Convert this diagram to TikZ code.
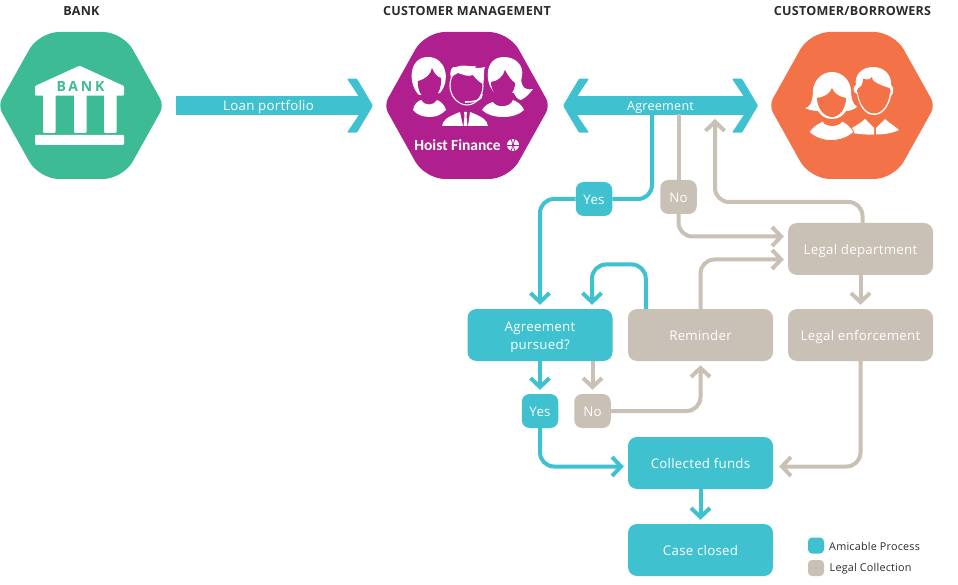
\documentclass[tikz,border=0pt]{standalone}
\usepackage{fontspec}
\setmainfont[LetterSpace=2]{Open Sans}
\newfontfamily\brandfont{Carlito}
\usetikzlibrary{calc,positioning,arrows.meta}
\definecolor{tealblue}{HTML}{3FC1CF}
\definecolor{legaltan}{HTML}{C9C0B6}
\definecolor{bankgreen}{HTML}{3DBB94}
\definecolor{hoistpink}{HTML}{B01F8E}
\definecolor{custorange}{HTML}{F47248}
\definecolor{titlegrey}{HTML}{2B2B2B}
\tikzset{
  hexbox/.style={minimum width=162pt,minimum height=147pt,inner sep=0pt},
  title/.style={font=\fontsize{12.55}{12.55}\selectfont\bfseries,text=titlegrey},
  stepbox/.style={rounded corners=9pt,minimum width=145pt,minimum height=52pt,inner sep=0pt,text=white,align=center,font=\fontsize{13.3}{18}\selectfont},
  oneline/.style={text height=11pt,text depth=0pt},
  tealbox/.style={stepbox,fill=tealblue},
  tanbox/.style={stepbox,fill=legaltan},
  tealtag/.style={tealbox,oneline,minimum width=36.5pt,minimum height=34pt,rounded corners=8pt},
  tantag/.style={tanbox,oneline,minimum width=36.5pt,minimum height=34pt,rounded corners=8pt},
  band/.style={tealblue,line width=18.4pt},
  bandtext/.style={text=white,text height=9.5pt,text depth=0pt},
  tealline/.style={tealblue,line width=4pt,rounded corners=14pt},
  tanline/.style={legaltan,line width=4pt,rounded corners=14pt},
  barb/.style={-{Straight Barb[length=9pt,width=19pt]},shorten >=4pt},
  legendbox/.style={minimum size=16pt,inner sep=0pt,rounded corners=4pt},
  legendtext/.style={font=\fontsize{10.8}{11}\selectfont,text=titlegrey,anchor=west,inner sep=0pt},
}
\newcommand{\hexagon}[2]{\fill[#2] (#1,32) [rounded corners=20pt] -- (#1+42,32) [rounded corners=8pt] -- (#1+83,105.5) [rounded corners=20pt] -- (#1+42,179) -- (#1-42,179) [rounded corners=8pt] -- (#1-83,105.5) [rounded corners=20pt] -- (#1-42,32) [sharp corners] -- cycle;}
\newcommand{\chevron}[2]{\fill[tealblue,shift={(#1)},xscale=#2,rounded corners=1pt] (-26,-27) -- (-16,-27) -- (0,0) -- (-16,27) -- (-26,27) -- (-14,9) -- (-14,-9) -- cycle;}
\begin{document}
\begin{tikzpicture}[x=1pt,y=-1pt]
    \useasboundingbox (0,0) rectangle (958,585);
    \node[title] (banktitle) at (81.5,11) {BANK};
    \node[title] (hoisttitle) at (467,11) {CUSTOMER MANAGEMENT};
    \node[title] (custtitle) at (852.5,11) {CUSTOMER/BORROWERS};
    \hexagon{81}{bankgreen}
    \hexagon{467}{hoistpink}
    \hexagon{852}{custorange}
    \node[hexbox] (bank) at (81,105.5) {};
    \node[hexbox] (hoist) at (467,105.5) {};
    \node[hexbox] (cust) at (852,105.5) {};

    \fill[white,rounded corners=1pt] (79.5,65.7) -- (124,86) -- (124,95.7) -- (35,95.7) -- (35,86) -- cycle;
    \foreach \x in {43,74,104}
        \fill[white,rounded corners=1pt] (\x,94) rectangle (\x+12.5,133);
    \fill[white,rounded corners=1pt] (35,135) rectangle (124,145);
    \node[text=bankgreen,font=\fontsize{14}{14}\selectfont\bfseries\addfontfeature{LetterSpace=20},inner sep=0pt] (banksign) at (80.5,86) {BANK};

    \fill[white] (419,95) .. controls (408,85) and (408,57) .. (428,57) .. controls (446,57) and (451,80) .. (440,93) -- cycle;
    \fill[hoistpink] (418,81) .. controls (426,79) and (431,74) .. (432,68) .. controls (434,73) and (437,77) .. (441,78) .. controls (442,88) and (437,99) .. (429,99) .. controls (422,99) and (417,90) .. (418,81) -- cycle;
    \fill[white] (413,110) .. controls (414,104) and (418,101) .. (421,100) .. controls (424,106) and (434,106) .. (437,100) .. controls (442,102) and (445,106) .. (446,110) .. controls (441,115) and (436,117) .. (430,117) .. controls (423,117) and (417,115) .. (413,110) -- cycle;

    \draw[white,line width=1.1pt] (450,86) .. controls (450,75) and (456,68) .. (466,68) .. controls (476,68) and (483,75) .. (483,86) .. controls (483,96) and (476,105) .. (467,105) .. controls (458,105) and (450,96) .. (450,86) -- cycle;
    \fill[white] (451,78) .. controls (449,70) and (452,66) .. (456,67) .. controls (462,64) and (470,67) .. (476,66) .. controls (475,67) and (475,68) .. (474,68) .. controls (478,68) and (482,68) .. (485,67) .. controls (483,70) and (485,76) .. (483,84) .. controls (479,82) and (476,79) .. (473,75) .. controls (468,77) and (464,75) .. (458,73) .. controls (455,74) and (453,76) .. (451,78) -- cycle;
    \draw[white,line width=1.6pt] (482,94) .. controls (482,100) and (476,102) .. (465,102);
    \fill[white] (442,126) .. controls (443,120) and (447,117) .. (460,112) -- (463,126) -- cycle;
    \fill[white] (488,126) .. controls (487,120) and (483,117) .. (470,112) -- (468,126) -- cycle;
    \fill[white] (464,112) -- (467,112) -- (466.5,116) -- (467.5,126) -- (463.5,126) -- (464.5,116) -- cycle;

    \fill[white] (495,93) .. controls (485,85) and (483,57) .. (504,57) .. controls (516,57) and (524,66) .. (522,76) .. controls (520,84) and (523,91) .. (533,89) .. controls (530,93) and (527,97) .. (521,100) .. controls (518,100) and (515,96) .. (514,93) -- cycle;
    \fill[hoistpink] (491,82) .. controls (498,81) and (503,77) .. (505,70) .. controls (508,76) and (512,81) .. (515,83) .. controls (515,91) and (510,98) .. (503,98) .. controls (496,98) and (491,90) .. (491,82) -- cycle;
    \fill[white] (482,110) .. controls (484,106) and (489,103) .. (493,102) .. controls (496,108) and (510,108) .. (513,100) .. controls (518,102) and (522,105) .. (524,110) .. controls (519,115) and (511,117) .. (503,117) .. controls (495,117) and (487,115) .. (482,110) -- cycle;

    \node[text=white,font=\brandfont\bfseries\fontsize{15.5}{16}\selectfont,inner sep=0pt] (hoistname) at (457.5,145.5) {Hoist Finance};
    \fill[white] (513,145) circle (6pt);
    \draw[hoistpink,line width=0.8pt] (507,145) -- (519,145);
    \draw[hoistpink,line width=0.8pt] (511,139) .. controls (513,143) and (513,147) .. (511,151);
    \draw[hoistpink,line width=0.8pt] (515,139) .. controls (513,143) and (513,147) .. (515,151);

    \fill[white] (857,94) .. controls (852,92) and (853,86) .. (856,85) .. controls (854,76) and (861,67) .. (873,67) .. controls (885,67) and (892,76) .. (891,85) .. controls (894,87) and (894,93) .. (891,96) .. controls (889,106) and (883,115) .. (874,115) .. controls (865,115) and (859,106) .. (857,94) -- cycle;
    \fill[custorange] (858,94) .. controls (856,92) and (857,89) .. (858.5,88) .. controls (861,87) and (863,84) .. (863,79) .. controls (866,80) and (870,80) .. (872,77) .. controls (872,79) and (873,81) .. (875,82) .. controls (880,85) and (885,87) .. (889.5,88) .. controls (891,90) and (891,92) .. (889.5,95) .. controls (888,105) and (882,113.5) .. (874,113.5) .. controls (866,113.5) and (860,105) .. (858,94) -- cycle;
    \fill[white] (852,128) .. controls (857,125) and (862,122) .. (865,119) .. controls (868,122) and (871,125) .. (874,128) -- (874,134.5) .. controls (866,135) and (859,134) .. (852,133) -- cycle;
    \fill[white] (885,119) .. controls (889,123) and (895,126) .. (899,130) .. controls (893,133) and (885,134.5) .. (876,134.5) -- (876,128) .. controls (879,125) and (882,122) .. (885,119) -- cycle;

    \fill[white] (808,107) .. controls (812,104) and (813,96) .. (813,90) .. controls (814,80) and (822,72) .. (832,72) .. controls (842,72) and (850,80) .. (851,90) .. controls (851,96) and (852,104) .. (857,107) .. controls (853,110) and (849,111) .. (846,111) .. controls (843,116) and (838,119) .. (832,119) .. controls (826,119) and (821,116) .. (818,111) .. controls (814,111) and (809,110) .. (805,108) -- cycle;
    \fill[custorange] (817,98) .. controls (824,97) and (830,94) .. (832,88) .. controls (834,94) and (840,97) .. (846,98) .. controls (846,108) and (840,117) .. (832,117) .. controls (824,117) and (817,108) .. (817,98) -- cycle;
    \filldraw[white,draw=custorange,line width=0.8pt] (809,132) .. controls (812,127) and (818,123) .. (823,121) .. controls (825,127) and (839,127) .. (842,121) .. controls (847,123) and (851,127) .. (854,132) .. controls (849,137) and (840,140.5) .. (831,140.5) .. controls (822,140.5) and (814,137) .. (809,132) -- cycle;

    \node[tealbox] (pursued) at (540,335) {\rule{0pt}{14pt}Agreement\\pursued?};
    \node[tanbox,oneline] (reminder) at (700.5,335) {Reminder};
    \node[tanbox,oneline] (legaldept) at (860.5,249) {Legal department};
    \node[tanbox,oneline] (legalenf) at (860.5,335) {Legal enforcement};
    \node[tealbox,oneline] (funds) at (700.5,463) {Collected funds};
    \node[tealbox,oneline] (closed) at (700.5,550) {Case closed};

    \coordinate (loanstart) at (176,105.7);
    \coordinate (loantip) at (373,105.7);
    \coordinate (agreeleft) at (563,105.7);
    \coordinate (agreeright) at (758,105.7);
    \chevron{loantip}{1}
    \chevron{agreeleft}{-1}
    \chevron{agreeright}{1}
    \draw[band] (loanstart) -- ([xshift=-12pt]loantip) node[midway,bandtext,font=\fontsize{13.3}{13.3}\selectfont] (loanlabel) {Loan portfolio};
    \draw[band] ([xshift=12pt]agreeleft) -- ([xshift=-12pt]agreeright) node[midway,bandtext,font=\fontsize{12.6}{12.6}\selectfont] (agreelabel) {Agreement};
    \coordinate (yesfrom) at (652,114);
    \coordinate (nofrom) at (678.5,114);
    \coordinate (backto) at (715,115);

    \node[tealtag] (yestop) at (594,199) {Yes};
    \node[tantag] (notop) at (678.5,197) {No};
    \node[tealtag] (yesbot) at (540,411) {Yes};
    \node[tantag] (nobot) at (592.5,411) {No};

    \draw[tealline] (yesfrom) |- (yestop);
    \draw[tealline,barb] (yestop) -| (pursued.north);
    \draw[tealline,barb] ([xshift=18pt]reminder.north west) |- (619,264.5) -| ([xshift=52pt]pursued.north);
    \draw[tealline,barb] (pursued.south) -- (yesbot.north);
    \draw[tealline,barb] (yesbot.south) |- ([yshift=-3.5pt]funds.west);
    \draw[tealline,barb] (funds.south) -- (closed.north);

    \draw[tanline] (nofrom) -- (notop.north);
    \draw[tanline,barb] (notop.south) |- ([yshift=12.5pt]legaldept.west);
    \draw[tanline,barb] (reminder.north) |- ([yshift=-10.5pt]legaldept.west);
    \draw[tanline,barb] ([xshift=2pt]legaldept.north) |- (780,202) -| (backto);
    \draw[tanline,barb] (legaldept.south) -- (legalenf.north);
    \draw[tanline,barb] (legalenf.south) |- ([yshift=-3.5pt,xshift=2pt]funds.east);
    \draw[tanline,barb] ([xshift=52.5pt]pursued.south) -- (nobot.north);
    \draw[tanline,barb] (nobot.east) -| (reminder.south);

    \node[legendbox,fill=tealblue] (amicablekey) at (816,545.5) {};
    \node[legendbox,fill=legaltan] (legalkey) at (816,568) {};
    \node[legendtext] (amicabletext) at (829,546.5) {Amicable Process};
    \node[legendtext] (legaltext) at (829.5,568.5) {Legal Collection};
\end{tikzpicture}
\end{document}
